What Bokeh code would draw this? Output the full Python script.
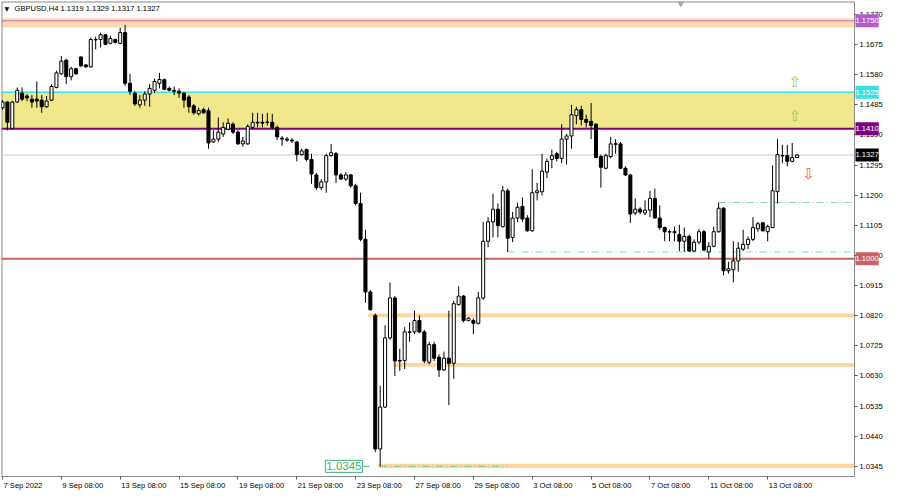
from bokeh.plotting import figure
from bokeh.models import (Range1d, FixedTicker, PrintfTickFormatter, Label,
                          ColumnDataSource, BoxAnnotation)
from bokeh.core.properties import value
from bokeh.embed import file_html
from bokeh.resources import INLINE

# ---------------- data (GBPUSD H4) ----------------
opens = [1.1476, 1.1494, 1.1411, 1.1494, 1.1522, 1.1513, 1.1503, 1.1503, 1.1500, 1.1479,
         1.1500, 1.1540, 1.1583, 1.1626, 1.1574, 1.1599, 1.1636, 1.1611, 1.1605, 1.1691,
         1.1691, 1.1706, 1.1679, 1.1691, 1.1679, 1.1713, 1.1553, 1.1522, 1.1485, 1.1500,
         1.1519, 1.1531, 1.1553, 1.1565, 1.1537, 1.1531, 1.1528, 1.1522, 1.1510, 1.1482,
         1.1457, 1.1470, 1.1467, 1.1368, 1.1377, 1.1393, 1.1408, 1.1424, 1.1399, 1.1362,
         1.1362, 1.1414, 1.1430, 1.1430, 1.1430, 1.1430, 1.1414, 1.1380, 1.1377, 1.1374,
         1.1368, 1.1328, 1.1344, 1.1313, 1.1264, 1.1224, 1.1242, 1.1325, 1.1331, 1.1264,
         1.1251, 1.1264, 1.1230, 1.1174, 1.1061, 1.0895, 1.0821, 1.0400, 1.0532, 1.0750,
         1.0876, 1.0679, 1.0679, 1.0769, 1.0769, 1.0805, 1.0769, 1.0673, 1.0729, 1.0689,
         1.0649, 1.0686, 1.0670, 1.0855, 1.0882, 1.0805, 1.0805, 1.0796, 1.0876, 1.1055,
         1.1116, 1.1156, 1.1101, 1.1214, 1.1067, 1.1128, 1.1165, 1.1128, 1.1088, 1.1208,
         1.1211, 1.1273, 1.1313, 1.1331, 1.1316, 1.1377, 1.1387, 1.1451, 1.1470, 1.1439,
         1.1433, 1.1424, 1.1322, 1.1285, 1.1322, 1.1362, 1.1362, 1.1285, 1.1264, 1.1144,
         1.1156, 1.1144, 1.1153, 1.1190, 1.1128, 1.1098, 1.1085, 1.1085, 1.1076, 1.1055,
         1.1070, 1.1024, 1.1052, 1.1085, 1.1021, 1.1039, 1.1085, 1.1159, 1.0962, 1.0965,
         1.0993, 1.1030, 1.1045, 1.1061, 1.1094, 1.1113, 1.1085, 1.1098, 1.1211, 1.1325,
         1.1325, 1.1307, 1.1319]
highs = [1.1500, 1.1497, 1.1497, 1.1540, 1.1540, 1.1519, 1.1516, 1.1559, 1.1516, 1.1513,
         1.1550, 1.1593, 1.1639, 1.1630, 1.1605, 1.1602, 1.1638, 1.1614, 1.1697, 1.1700,
         1.1713, 1.1708, 1.1703, 1.1694, 1.1728, 1.1737, 1.1583, 1.1528, 1.1516, 1.1528,
         1.1550, 1.1568, 1.1586, 1.1568, 1.1543, 1.1543, 1.1537, 1.1525, 1.1516, 1.1488,
         1.1476, 1.1476, 1.1476, 1.1405, 1.1445, 1.1430, 1.1442, 1.1430, 1.1405, 1.1384,
         1.1424, 1.1460, 1.1460, 1.1457, 1.1460, 1.1457, 1.1420, 1.1387, 1.1384, 1.1380,
         1.1371, 1.1347, 1.1347, 1.1331, 1.1270, 1.1251, 1.1331, 1.1362, 1.1337, 1.1270,
         1.1273, 1.1267, 1.1236, 1.1208, 1.1091, 1.0901, 1.0827, 1.0599, 1.0790, 1.0925,
         1.0882, 1.0716, 1.0784, 1.0799, 1.0836, 1.0821, 1.0775, 1.0738, 1.0738, 1.0698,
         1.0707, 1.0836, 1.0867, 1.0913, 1.0885, 1.0815, 1.0812, 1.0895, 1.1116, 1.1131,
         1.1205, 1.1174, 1.1230, 1.1221, 1.1147, 1.1177, 1.1193, 1.1137, 1.1282, 1.1239,
         1.1331, 1.1316, 1.1344, 1.1337, 1.1424, 1.1393, 1.1485, 1.1479, 1.1482, 1.1454,
         1.1491, 1.1427, 1.1328, 1.1331, 1.1384, 1.1377, 1.1368, 1.1291, 1.1267, 1.1190,
         1.1162, 1.1184, 1.1214, 1.1221, 1.1168, 1.1101, 1.1091, 1.1101, 1.1107, 1.1098,
         1.1076, 1.1061, 1.1094, 1.1091, 1.1052, 1.1101, 1.1177, 1.1162, 1.0990, 1.1055,
         1.1052, 1.1091, 1.1070, 1.1131, 1.1116, 1.1116, 1.1107, 1.1294, 1.1377, 1.1359,
         1.1359, 1.1365, 1.1329]
lows = [1.1470, 1.1405, 1.1408, 1.1491, 1.1497, 1.1497, 1.1476, 1.1476, 1.1460, 1.1476,
        1.1497, 1.1537, 1.1580, 1.1550, 1.1562, 1.1580, 1.1605, 1.1602, 1.1602, 1.1660,
        1.1666, 1.1673, 1.1676, 1.1679, 1.1676, 1.1546, 1.1516, 1.1482, 1.1476, 1.1482,
        1.1479, 1.1522, 1.1537, 1.1531, 1.1528, 1.1516, 1.1507, 1.1476, 1.1460, 1.1454,
        1.1451, 1.1457, 1.1347, 1.1365, 1.1368, 1.1384, 1.1405, 1.1393, 1.1359, 1.1353,
        1.1359, 1.1408, 1.1414, 1.1414, 1.1420, 1.1408, 1.1374, 1.1356, 1.1368, 1.1365,
        1.1307, 1.1325, 1.1307, 1.1236, 1.1217, 1.1217, 1.1208, 1.1322, 1.1239, 1.1248,
        1.1245, 1.1224, 1.1168, 1.1055, 1.0861, 1.0836, 1.0390, 1.0345, 1.0529, 1.0744,
        1.0630, 1.0646, 1.0652, 1.0738, 1.0762, 1.0765, 1.0670, 1.0667, 1.0677, 1.0627,
        1.0646, 1.0538, 1.0621, 1.0852, 1.0799, 1.0802, 1.0762, 1.0793, 1.0870, 1.1036,
        1.1067, 1.1067, 1.1098, 1.1021, 1.1052, 1.1116, 1.1116, 1.1085, 1.1085, 1.1184,
        1.1199, 1.1254, 1.1285, 1.1307, 1.1301, 1.1297, 1.1347, 1.1424, 1.1420, 1.1414,
        1.1377, 1.1316, 1.1224, 1.1282, 1.1316, 1.1331, 1.1282, 1.1261, 1.1113, 1.1137,
        1.1141, 1.1137, 1.1131, 1.1128, 1.1091, 1.1055, 1.1055, 1.1055, 1.1024, 1.1021,
        1.1021, 1.1021, 1.1045, 1.1024, 1.0999, 1.1036, 1.1082, 1.0947, 1.0953, 1.0925,
        1.0959, 1.1024, 1.1030, 1.1055, 1.1085, 1.1085, 1.1055, 1.1098, 1.1174, 1.1301,
        1.1291, 1.1304, 1.1317]
closes = [1.1494, 1.1430, 1.1494, 1.1531, 1.1503, 1.1507, 1.1494, 1.1497, 1.1479, 1.1497,
          1.1543, 1.1586, 1.1623, 1.1574, 1.1599, 1.1583, 1.1608, 1.1605, 1.1691, 1.1690,
          1.1706, 1.1676, 1.1694, 1.1682, 1.1713, 1.1553, 1.1528, 1.1488, 1.1500, 1.1519,
          1.1537, 1.1559, 1.1565, 1.1534, 1.1531, 1.1528, 1.1522, 1.1500, 1.1479, 1.1460,
          1.1467, 1.1460, 1.1365, 1.1377, 1.1399, 1.1414, 1.1427, 1.1399, 1.1362, 1.1371,
          1.1417, 1.1430, 1.1428, 1.1427, 1.1431, 1.1414, 1.1384, 1.1377, 1.1374, 1.1371,
          1.1328, 1.1340, 1.1313, 1.1267, 1.1224, 1.1242, 1.1325, 1.1334, 1.1264, 1.1251,
          1.1264, 1.1230, 1.1174, 1.1061, 1.0895, 1.0839, 1.0400, 1.0532, 1.0750, 1.0876,
          1.0677, 1.0677, 1.0769, 1.0768, 1.0805, 1.0769, 1.0677, 1.0729, 1.0686, 1.0649,
          1.0686, 1.0670, 1.0858, 1.0882, 1.0805, 1.0812, 1.0796, 1.0876, 1.1055, 1.1116,
          1.1156, 1.1104, 1.1214, 1.1064, 1.1128, 1.1162, 1.1125, 1.1088, 1.1208, 1.1214,
          1.1276, 1.1307, 1.1325, 1.1316, 1.1377, 1.1387, 1.1454, 1.1470, 1.1439, 1.1430,
          1.1420, 1.1319, 1.1288, 1.1325, 1.1362, 1.1361, 1.1285, 1.1264, 1.1141, 1.1156,
          1.1147, 1.1153, 1.1190, 1.1128, 1.1098, 1.1085, 1.1084, 1.1082, 1.1055, 1.1070,
          1.1024, 1.1052, 1.1085, 1.1027, 1.1039, 1.1085, 1.1159, 1.0962, 1.0968, 1.0993,
          1.1033, 1.1045, 1.1061, 1.1098, 1.1110, 1.1088, 1.1101, 1.1214, 1.1328, 1.1324,
          1.1307, 1.1319, 1.1327]

tick_bars = [0, 12, 24, 36, 48, 60, 72, 84, 96, 108, 120, 132, 144, 156]
tick_labels = ["7 Sep 2022", "9 Sep 08:00", "13 Sep 08:00", "15 Sep 08:00",
               "19 Sep 08:00", "21 Sep 08:00", "23 Sep 08:00", "27 Sep 08:00",
               "29 Sep 08:00", "3 Oct 08:00", "5 Oct 08:00", "7 Oct 08:00",
               "11 Oct 08:00", "13 Oct 08:00"]
price_ticks = [1.0345, 1.0440, 1.0535, 1.0630, 1.0725, 1.0820, 1.0915, 1.1010,
               1.1105, 1.1200, 1.1295, 1.1390, 1.1485, 1.1580, 1.1675, 1.1770]

zone_high, zone_low = 1.1525, 1.1410          # yellow resistance zone
top_band_low, top_band_high = 1.1729, 1.1758  # peach band around 1.1750
level_1750 = 1.1750
level_1100 = 1.1000
support_low = [1.0815, 1.0659, 1.0340]
support_high = [1.0827, 1.0671, 1.0353]
support_start_bar = [75, 80, 77]
dash_levels = [1.1021, 1.1177]
dash_start_bar = [103, 146]
low_mark_price = 1.0345
low_mark_bars = [77, 103]
up_arrow_bars = [161.6, 161.6]
up_arrow_prices = [1.1558, 1.1449]
down_arrow_bars = [164.4]
down_arrow_prices = [1.1266]
tag_prices = [1.1750, 1.1525, 1.1410, closes[-1], 1.1000]
tag_colors = ["#B45CCB", "#3FE0E0", "#800080", "#000000", "#C86464"]
header = "GBPUSD,H4  %.4f %.4f %.4f %.4f" % (opens[-1], highs[-1], lows[-1], closes[-1])

# ---------------- layout constants ----------------
W, H = 888, 492
SCALE_PX = 34                 # width of the price scale strip
X0, XB = -0.2, 173.7          # chart area in bar units
px_per_bar = (W - 1 - SCALE_PX) / (XB - X0)
X1 = XB + SCALE_PX / px_per_bar
Y0, Y1 = 1.0313, 1.1811
FONT = "Liberation Sans"
FS = "7.6px"
FSN = 7.6

# approximate advance widths (em) of Liberation Sans, to left-align date labels on their ticks
adv = {" ": 0.278, ":": 0.278, "S": 0.667, "O": 0.778, "e": 0.556, "p": 0.556,
       "c": 0.5, "t": 0.278}
def text_px(s):
    return sum(adv.get(ch, 0.556) for ch in s) * FSN

label_pos = [round(b + (text_px(t) / 2 + 1.0) / px_per_bar, 4)
             for b, t in zip(tick_bars, tick_labels)]

p = figure(width=W, height=H, output_backend="svg", toolbar_location=None,
           x_range=Range1d(X0, X1), y_range=Range1d(Y0, Y1),
           x_axis_location="below", y_axis_location="right",
           min_border_left=1, min_border_top=1, min_border_right=0, min_border_bottom=16)
p.background_fill_color = "white"
p.border_fill_color = "white"
p.outline_line_color = None
p.grid.visible = False

# zones (behind candles)
p.add_layout(BoxAnnotation(right=XB, bottom=top_band_low, top=top_band_high,
                           fill_color="#FDDAB0", fill_alpha=1, line_alpha=0, level="underlay"))
p.add_layout(BoxAnnotation(right=XB, bottom=zone_low, top=zone_high, fill_color="#F0E68C",
                           fill_alpha=1, line_alpha=0, level="underlay"))
for lo, hi, sb in zip(support_low, support_high, support_start_bar):
    p.add_layout(BoxAnnotation(left=sb - 0.4, right=XB, bottom=lo, top=hi,
                               fill_color="#FCD49E", fill_alpha=1, line_alpha=0,
                               level="underlay"))

# frame borders (left / top / right edge of the chart area)
p.segment(x0=[X0, X0, XB], y0=[Y0, Y1, Y0], x1=[X0, XB, XB], y1=[Y1, Y1, Y1],
          line_color="#8a8a8a", line_width=[2, 2, 1])

# horizontal levels
lvl_y = [level_1750, zone_high, zone_low, closes[-1], level_1100]
lvl_col = ["#C866C0", "#3FE0E0", "#800080", "#C8C8C8", "#C86464"]
lvl_w = [1, 1.5, 2, 1, 2]
p.segment(x0=[X0] * 5, y0=lvl_y, x1=[XB] * 5, y1=lvl_y, line_color=lvl_col, line_width=lvl_w)

p.segment(x0=dash_start_bar, y0=dash_levels, x1=[XB] * len(dash_levels), y1=dash_levels,
          line_color="#86D2D4", line_width=1, line_dash="7 3 1 3")
p.segment(x0=[low_mark_bars[0]], y0=[low_mark_price], x1=[low_mark_bars[1]],
          y1=[low_mark_price], line_color="#7CD07C", line_width=1, line_dash="7 3 1 3")

# candles
idx = list(range(len(opens)))
src = ColumnDataSource(dict(
    x=idx, o=opens, h=highs, l=lows, c=closes,
    top=[max(a, b) for a, b in zip(opens, closes)],
    bot=[min(a, b) for a, b in zip(opens, closes)],
    fill=["white" if c >= o else "black" for o, c in zip(opens, closes)],
))
p.segment(x0="x", y0="h", x1="x", y1="l", source=src, line_color="black", line_width=1)
p.vbar(x="x", top="top", bottom="bot", width=0.62, source=src,
       fill_color="fill", line_color="black", line_width=1)

# arrows
p.text(x=up_arrow_bars, y=up_arrow_prices, text=["\u21e7"] * len(up_arrow_bars),
       text_color="#9ACD32", text_font=value("DejaVu Sans"), text_font_size="15px",
       text_align="center", text_baseline="middle")
p.text(x=down_arrow_bars, y=down_arrow_prices, text=["\u21e9"] * len(down_arrow_bars),
       text_color="#F05A5A", text_font=value("DejaVu Sans"), text_font_size="15px",
       text_align="center", text_baseline="middle")

# low price label
p.add_layout(Label(x=low_mark_bars[0] - 3.6, y=low_mark_price, text="%.4f" % low_mark_price,
                   text_align="right", text_baseline="middle", text_color="#3CB371",
                   text_font=FONT, text_font_size="11.5px", background_fill_color="white",
                   border_line_color="#3CB371", border_line_width=1, padding=(1, 2)))
p.segment(x0=[low_mark_bars[0] - 3.4], y0=[low_mark_price], x1=[low_mark_bars[0] - 2.2],
          y1=[low_mark_price], line_color="#3CB371", line_width=1)

# chart shift marker
p.scatter(x=[138.3], y=[Y1], marker="inverted_triangle", size=9,
          fill_color="#A8A8A8", line_color="#A8A8A8")

# header
p.add_layout(Label(x=X0, y=Y1, x_offset=3, y_offset=-7, text="\u25bc", text_font="DejaVu Sans",
                   text_font_size="6px", text_baseline="middle", text_color="black"))
p.add_layout(Label(x=X0, y=Y1, x_offset=13, y_offset=-7, text=header, text_font=FONT,
                   text_font_size=FS, text_baseline="middle", text_color="black"))

# time axis
xa = p.xaxis[0]
xa.bounds = (X0, XB)
xa.ticker = FixedTicker(ticks=label_pos, minor_ticks=tick_bars)
xa.major_label_overrides = {pos: t for pos, t in zip(label_pos, tick_labels)}
xa.major_label_text_font = FONT
xa.major_label_text_font_size = FS
xa.major_label_text_color = "black"
xa.major_label_standoff = 1
xa.major_tick_out = 0
xa.major_tick_in = 0
xa.minor_tick_out = 3
xa.minor_tick_in = 0
xa.minor_tick_line_color = "#555555"
xa.axis_line_color = "#8a8a8a"

# price axis, drawn at the right edge of the chart area
ya = p.yaxis[0]
ya.fixed_location = XB
ya.ticker = FixedTicker(ticks=price_ticks)
ya.formatter = PrintfTickFormatter(format="%.4f")
ya.major_label_text_font = FONT
ya.major_label_text_font_size = FS
ya.major_label_text_color = "black"
ya.major_label_standoff = 2
ya.major_tick_out = 3
ya.major_tick_in = 0
ya.minor_tick_out = 0
ya.minor_tick_in = 0
ya.axis_line_color = "#8a8a8a"
ya.major_tick_line_color = "#555555"

# price tags on the price scale
for pr, col in zip(tag_prices, tag_colors):
    p.add_layout(Label(x=XB, y=pr, x_offset=1, text="%.4f" % pr, text_align="left",
                       text_baseline="middle", text_color="white", text_font=FONT,
                       text_font_size=FS, background_fill_color=col, padding=(0, 4)))

open("out.html", "w").write(file_html(p, INLINE))
